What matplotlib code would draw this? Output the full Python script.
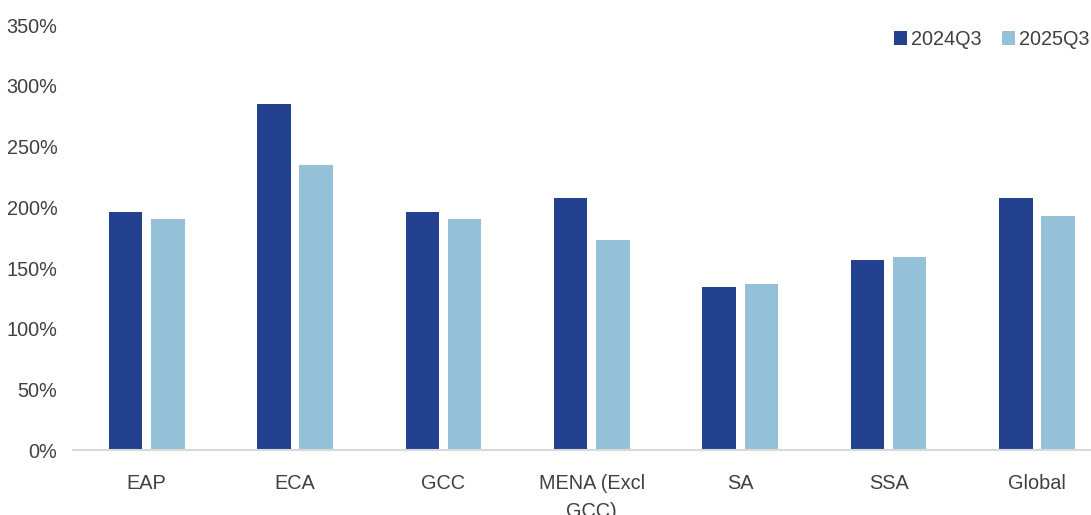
import matplotlib.pyplot as plt
import numpy as np
from matplotlib.ticker import FuncFormatter

plt.rcParams['font.family'] = ['Liberation Sans', 'DejaVu Sans']

regions = ['EAP', 'ECA', 'GCC', 'MENA (Excl\nGCC)', 'SA', 'SSA', 'Global']
q3_2024 = [196, 285, 196, 208, 134, 157, 208]
q3_2025 = [190, 235, 190, 173, 137, 159, 193]

dark = '#23418F'
light = '#94C0D8'
txt = '#404040'

fig = plt.figure(figsize=(10.91, 5.15), dpi=100)
ax = fig.add_axes([0.0665, 0.126, 0.952, 0.825])

x = np.arange(len(regions))
w = 0.225
ax.bar(x - 0.142, q3_2024, w, color=dark, label='2024Q3')
ax.bar(x + 0.142, q3_2025, w, color=light, label='2025Q3')

ax.set_xlim(-0.5, len(regions) - 0.5)
ax.set_ylim(0, 350)
ax.set_yticks(range(0, 351, 50))
ax.yaxis.set_major_formatter(FuncFormatter(lambda v, p: f'{v:.0f}%'))
ax.set_xticks(x)
ax.set_xticklabels(regions, linespacing=1.6)

for s in ['top', 'right', 'left']:
    ax.spines[s].set_visible(False)
ax.spines['bottom'].set_color('#D9D9D9')
ax.spines['bottom'].set_linewidth(1.5)
ax.tick_params(axis='both', length=0, colors=txt, labelsize=14.3)
ax.tick_params(axis='x', pad=17)
ax.tick_params(axis='y', pad=11)

leg = ax.legend(loc='upper right', bbox_to_anchor=(1.006, 0.957), bbox_transform=fig.transFigure,
                ncol=2, frameon=False, fontsize=14.3, handlelength=0.68, handleheight=0.68,
                handletextpad=0.2, columnspacing=1.0, borderaxespad=0)
for t in leg.get_texts():
    t.set_color(txt)

fig.savefig('out.png', dpi=100)
